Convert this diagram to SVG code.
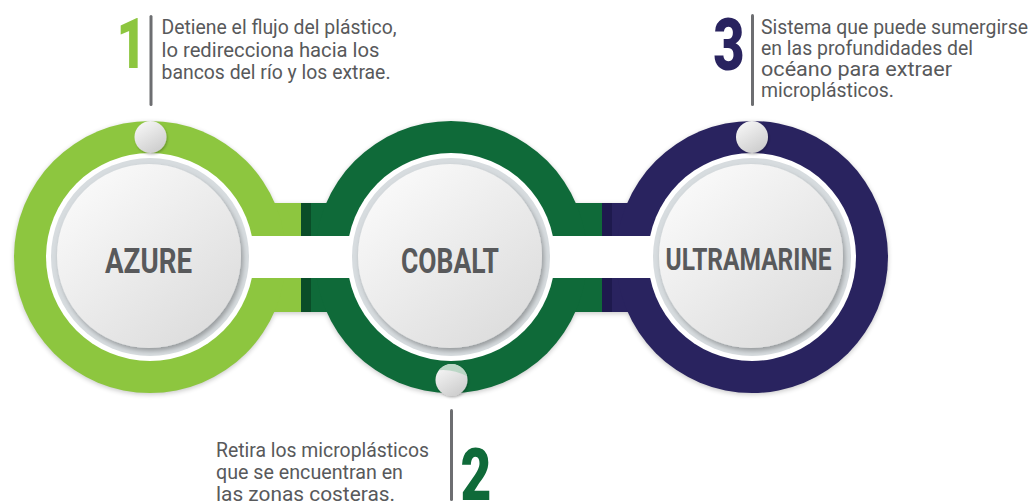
<svg xmlns="http://www.w3.org/2000/svg" width="1035" height="504" viewBox="0 0 1035 504">
<defs>
<style>
.desc{font-family:Roboto,"Liberation Sans",sans-serif;font-size:20.5px;fill:#58595b}
.lbl{font-family:Roboto,"Liberation Sans",sans-serif;font-weight:700;fill:#58595b}
.num{font-family:Roboto,"Liberation Sans",sans-serif;font-weight:900}
.vbar{fill:#6d6e71}
.wht{fill:#fff}
.band{fill:#d7dcdf}
.disk{fill:url(#disk);filter:url(#ds)}
.dot{fill:url(#dot);filter:url(#ds2)}
.lg{fill:#8dc63f}
.cb{fill:#0f6a39}
.nv{fill:#29235f}
</style>
<linearGradient id="disk" x1="0.15" y1="0.1" x2="0.85" y2="0.95"><stop offset="0" stop-color="#f9f9f9"/><stop offset="1" stop-color="#dcdcdc"/></linearGradient>
<linearGradient id="dot" x1="0.2" y1="0" x2="0.8" y2="1"><stop offset="0" stop-color="#f7f7f7"/><stop offset="1" stop-color="#cbcbcb"/></linearGradient>
<filter id="ds" x="-20%" y="-20%" width="140%" height="140%"><feDropShadow dx="2" dy="3" stdDeviation="2.5" flood-color="#000" flood-opacity="0.3"/></filter>
<filter id="ds2" x="-40%" y="-40%" width="180%" height="180%"><feDropShadow dx="1" dy="1.5" stdDeviation="1.2" flood-color="#000" flood-opacity="0.25"/></filter>
<filter id="soft" x="-10%" y="-10%" width="120%" height="120%"><feGaussianBlur stdDeviation="2.5"/></filter>
<clipPath id="dotclip"><circle cx="451.5" cy="380" r="16"/></clipPath>
</defs>

<g id="shadow" filter="url(#soft)" fill="#000" opacity="0.22" transform="translate(0,1.5)">
<circle cx="150" cy="257" r="136"/>
<circle cx="451" cy="257" r="136"/>
<circle cx="752" cy="257" r="136"/>
<rect x="258" y="203" width="380" height="33"/>
<rect x="258" y="278" width="380" height="34"/>
</g>

<g id="connectors">
<rect class="lg" x="258" y="203" width="43" height="33"/>
<rect x="301" y="203" width="10" height="33" fill="#0a4d28"/>
<rect class="cb" x="311" y="203" width="32" height="33"/>
<rect class="lg" x="258" y="278" width="43" height="34"/>
<rect x="301" y="278" width="10" height="34" fill="#0a4d28"/>
<rect class="cb" x="311" y="278" width="32" height="34"/>
<rect class="cb" x="560" y="203" width="42" height="33"/>
<rect x="602" y="203" width="10" height="33" fill="#1e1a4e"/>
<rect class="nv" x="612" y="203" width="36" height="33"/>
<rect class="cb" x="560" y="278" width="42" height="34"/>
<rect x="602" y="278" width="10" height="34" fill="#1e1a4e"/>
<rect class="nv" x="612" y="278" width="36" height="34"/>
</g>

<g id="node-azure">
<circle class="lg" cx="150" cy="257" r="136"/>
<rect class="wht" x="150" y="236" width="150" height="42"/>
<circle class="wht" cx="150" cy="257" r="104"/>
<circle class="band" cx="150" cy="257" r="99"/>
<circle class="disk" cx="149" cy="256" r="92"/>
<text class="lbl" x="148.5" y="273" font-size="35" text-anchor="middle" textLength="87" lengthAdjust="spacingAndGlyphs">AZURE</text>
<circle class="dot" cx="150.5" cy="137" r="16"/>
</g>

<g id="node-cobalt">
<circle class="cb" cx="451" cy="257" r="136"/>
<rect class="wht" x="300" y="236" width="303" height="42"/>
<circle class="wht" cx="451" cy="257" r="104"/>
<circle class="band" cx="451" cy="257" r="99"/>
<circle class="disk" cx="450" cy="256" r="92"/>
<text class="lbl" x="450" y="273" font-size="35" text-anchor="middle" textLength="98" lengthAdjust="spacingAndGlyphs">COBALT</text>
<circle class="dot" cx="451.5" cy="380" r="16"/>
<path d="M430,372 Q450,366 470,378 L470,360 L430,360 Z" fill="#b3d3c0" opacity="0.85" clip-path="url(#dotclip)"/>
</g>

<g id="node-ultramarine">
<circle class="nv" cx="752" cy="257" r="136"/>
<rect class="wht" x="603" y="236" width="149" height="42"/>
<circle class="wht" cx="752" cy="257" r="104"/>
<circle class="band" cx="752" cy="257" r="99"/>
<circle class="disk" cx="751" cy="256" r="92"/>
<text class="lbl" x="748.5" y="270" font-size="32" text-anchor="middle" textLength="166" lengthAdjust="spacingAndGlyphs">ULTRAMARINE</text>
<circle class="dot" cx="752" cy="137" r="16"/>
</g>

<g id="note-1">
<text class="num" transform="translate(131.5,68) scale(0.74,1)" font-size="70" text-anchor="middle" fill="#8dc63f">1</text>
<rect class="vbar" x="149.5" y="15" width="3" height="91" rx="1.5"/>
<text class="desc" x="161.5" y="34.3" textLength="235" lengthAdjust="spacingAndGlyphs">Detiene el flujo del plástico,</text>
<text class="desc" x="161.5" y="56.7" textLength="218" lengthAdjust="spacingAndGlyphs">lo redirecciona hacia los</text>
<text class="desc" x="161.5" y="79" textLength="229" lengthAdjust="spacingAndGlyphs">bancos del río y los extrae.</text>
</g>

<g id="note-3">
<text class="num" transform="translate(729,70) scale(0.74,1)" font-size="73" text-anchor="middle" fill="#29235f">3</text>
<rect class="vbar" x="751" y="14" width="3" height="92" rx="1.5"/>
<text class="desc" x="761" y="34.3" textLength="267" lengthAdjust="spacingAndGlyphs">Sistema que puede sumergirse</text>
<text class="desc" x="761" y="55" textLength="212" lengthAdjust="spacingAndGlyphs">en las profundidades del</text>
<text class="desc" x="761" y="76" textLength="191" lengthAdjust="spacingAndGlyphs">océano para extraer</text>
<text class="desc" x="761" y="96.7" textLength="133" lengthAdjust="spacingAndGlyphs">microplásticos.</text>
</g>

<g id="note-2">
<rect class="vbar" x="450" y="409" width="3" height="92" rx="1.5"/>
<text class="num" transform="translate(476,499.5) scale(0.74,1)" font-size="72" text-anchor="middle" fill="#0f6a39">2</text>
<text class="desc" x="216" y="457.3" textLength="213" lengthAdjust="spacingAndGlyphs">Retira los microplásticos</text>
<text class="desc" x="216" y="478.7" textLength="187" lengthAdjust="spacingAndGlyphs">que se encuentran en</text>
<text class="desc" x="216" y="500.5" textLength="179" lengthAdjust="spacingAndGlyphs">las zonas costeras.</text>
</g>
</svg>
